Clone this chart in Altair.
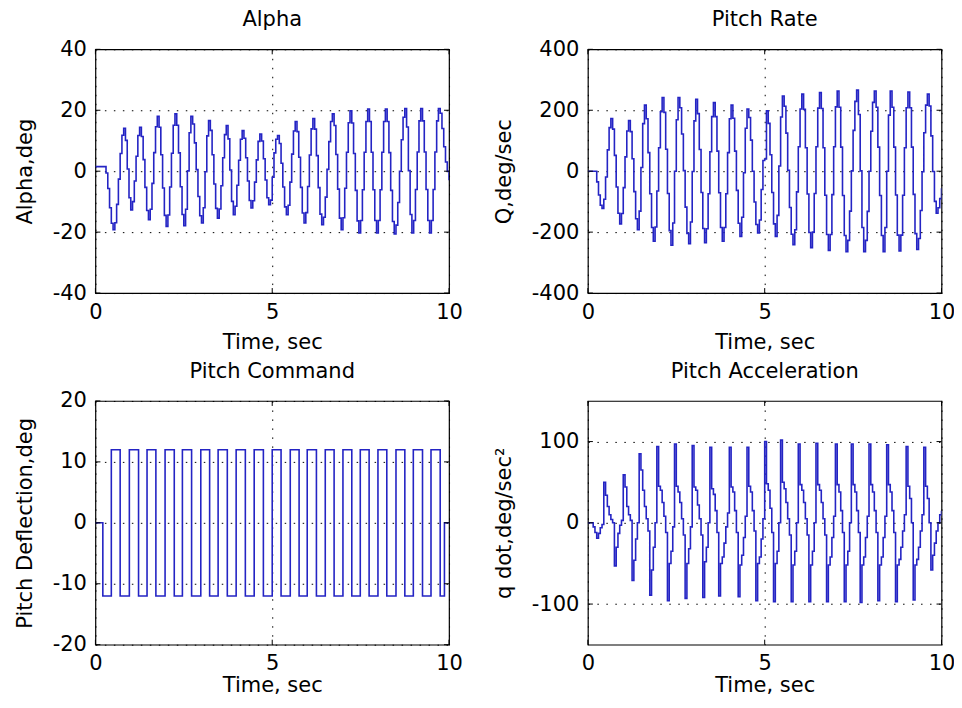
import altair as alt
import pandas as pd

TIME_STEP = 0.05

ALPHA = [
    1.5, 1.5, 1.5, 1.5, 1.5, 1.5, -0.6, -5.7, -12.0, -17.1,
    -19.2, -16.9, -10.9, -2.6, 5.8, 11.8, 14.1, 10.1, 0.7, -8.7,
    -12.7, -10.0, -3.2, 4.9, 11.7, 14.4, 11.4, 3.8, -5.3, -12.9,
    -15.9, -12.5, -4.0, 6.1, 14.6, 18.0, 14.4, 5.4, -5.5, -14.5,
    -18.1, -14.4, -5.2, 5.9, 15.1, 18.8, 15.1, 6.0, -5.1, -14.2,
    -17.9, -12.5, 0.1, 12.6, 18.0, 15.5, 9.3, 0.5, -8.3, -14.6,
    -17.0, -12.0, -0.2, 11.6, 16.6, 13.4, 5.4, -4.2, -12.2, -15.4,
    -12.4, -4.8, 4.4, 12.0, 15.0, 10.6, 0.4, -9.9, -14.3, -11.5,
    -4.6, 3.6, 10.5, 13.3, 10.8, 4.4, -3.2, -9.6, -12.1, -9.7,
    -3.6, 3.7, 9.8, 12.2, 9.9, 4.1, -2.9, -8.7, -11.0, -9.5,
    -2.0, 6.0, 10.5, 11.7, 9.1, 2.6, -5.2, -11.7, -14.3, -11.2,
    -3.6, 5.6, 13.2, 16.3, 13.0, 4.6, -5.3, -13.7, -17.0, -13.6,
    -5.0, 5.3, 13.9, 17.3, 13.8, 5.1, -5.4, -14.1, -17.6, -15.1,
    -8.5, 0.6, 9.7, 16.3, 18.8, 15.0, 5.5, -5.9, -15.4, -19.2,
    -15.3, -5.6, 6.2, 15.9, 19.8, 15.8, 5.8, -6.3, -16.3, -20.3,
    -16.2, -6.1, 6.2, 16.3, 20.4, 16.3, 6.2, -6.1, -16.2, -20.3,
    -16.2, -6.1, 6.2, 16.3, 20.4, 16.3, 6.1, -6.3, -16.5, -20.6,
    -17.7, -10.3, 0.0, 10.3, 17.7, 20.6, 14.5, 0.2, -14.2, -20.3,
    -16.2, -6.0, 6.3, 16.5, 20.6, 16.5, 6.3, -6.0, -16.2, -20.3,
    -16.2, -6.0, 6.3, 16.5, 20.6, 19.0, 14.0, 8.0, 3.0, 0.0,
    -3.0,
]

PITCH_RATE = [
    0, 0, 0, 0, 0, -35, -78, -112, -122, -92,
    -19, 70, 143, 173, 138, 52, -52, -138, -173, -139,
    -54, 47, 132, 166, 130, 41, -67, -156, -192, -131,
    12, 156, 217, 172, 61, -74, -185, -230, -183, -65,
    77, 195, 242, 193, 72, -73, -195, -243, -170, 0,
    169, 242, 208, 122, 2, -118, -204, -238, -167, -1,
    165, 236, 189, 71, -70, -188, -235, -189, -74, 64,
    179, 225, 179, 66, -71, -185, -230, -185, -74, 61,
    172, 217, 174, 66, -63, -171, -214, -151, -5, 141,
    204, 176, 102, 0, -101, -175, -203, -160, -60, 35,
    40, 198, 157, 54, -70, -173, -214, -145, 17, 178,
    247, 213, 125, 3, -119, -207, -241, -192, -68, 80,
    204, 253, 203, 77, -75, -201, -251, -200, -73, 80,
    207, 258, 206, 77, -79, -208, -260, -208, -77, 80,
    211, 263, 210, 79, -80, -211, -264, -227, -131, 1,
    134, 229, 266, 186, 1, -185, -264, -227, -132, 0,
    131, 226, 263, 210, 79, -80, -211, -264, -185, 0,
    184, 263, 210, 79, -78, -210, -262, -210, -79, 77,
    208, 260, 208, 79, -76, -205, -257, -221, -129, -2,
    126, 217, 253, 214, 116, -1, -99, -138, -120, -90,
    -56,
]

PITCH_ACCEL = [
    0, 0, 0, -5, -12, -19, -13, -6, -2, 50,
    34, 20, 10, 4, 0, -53, -30, -13, -3, 3,
    59, 44, 20, 10, 3, -71, -46, -20, 0, 85,
    65, 40, 20, 5, -10, -89, -58, -30, 0, 94,
    45, 40, 25, 8, -12, -96, -50, -35, -5, 97,
    45, 38, 25, 5, -15, -93, -50, -32, -5, 95,
    44, 40, 22, 5, -15, -92, -48, -30, 0, 93,
    42, 35, 15, -12, -90, -50, -42, -25, -5, 12,
    93, 44, 38, 15, -12, -91, -52, -40, -18, 8,
    93, 45, 38, 15, -10, -96, -50, -42, -20, 5,
    100, 48, 40, 18, -12, -97, -50, -35, 0, 102,
    50, 42, 25, 5, -15, -97, -52, -35, 0, 97,
    47, 40, 25, 5, -15, -97, -52, -35, 0, 98,
    47, 40, 25, 5, -15, -97, -52, -42, -18, 8,
    97, 47, 38, 15, -12, -97, -52, -35, 0, 97,
    47, 38, 15, -12, -98, -52, -42, -18, 8, 97,
    47, 38, 15, -12, -96, -52, -42, -18, 8, 96,
    47, 38, 15, -12, -97, -52, -45, -30, -10, 10,
    94, 45, 30, 0, -95, -52, -45, -30, -10, 10,
    93, 45, 30, 0, -58, -40, -25, -10, 0, 10,
    15,
]

# pitch command: switching instants (s) and the level held from each instant (deg)
CMD_TIME = [
    0.00, 0.21, 0.45, 0.70, 0.96, 1.22, 1.46, 1.71, 1.97, 2.23,
    2.46, 2.72, 2.98, 3.23, 3.47, 3.73, 3.98, 4.24, 4.49, 4.75,
    5.00, 5.25, 5.51, 5.76, 5.99, 6.25, 6.50, 6.75, 7.00, 7.25,
    7.49, 7.74, 7.99, 8.24, 8.50, 8.75, 8.99, 9.25, 9.49, 9.75,
    9.87, 10.00,
]
CMD_LEVEL = [
    0, -12, 12, -12, 12, -12, 12, -12, 12, -12,
    12, -12, 12, -12, 12, -12, 12, -12, 12, -12,
    12, -12, 12, -12, 12, -12, 12, -12, 12, -12,
    12, -12, 12, -12, 12, -12, 12, -12, 12, -12,
    0, 0,
]

X_TICKS = [0, 5, 10]
ALPHA_TICKS = [-40, -20, 0, 20, 40]
Q_TICKS = [-400, -200, 0, 200, 400]
CMD_TICKS = [-20, -10, 0, 10, 20]
QDOT_TICKS = [-100, 0, 100]

TITLES = ["Alpha", "Pitch Rate", "Pitch Command", "Pitch Acceleration"]
Y_TITLES = ["Alpha,deg", "Q,deg/sec", "Pitch Deflection,deg", "q dot,deg/sec\u00b2"]
X_TITLE = "Time, sec"

# ---------------- tables ----------------
times = [round(i * TIME_STEP, 2) for i in range(len(ALPHA))]
sim = pd.DataFrame({"t": times, "alpha": ALPHA, "q": PITCH_RATE, "qdot": PITCH_ACCEL})
cmd = pd.DataFrame({"t": CMD_TIME, "delta": CMD_LEVEL})

# ---------------- styling ----------------
FONT = "DejaVu Sans"
FS = 21
W, H = 354, 244
TICK_LEN = 5
LINE_COLOR = "#2424c4"


def panel(df, field, title, ytitle, ydomain, yticks, xtitle_y):
    x = alt.X(
        "t:Q",
        scale=alt.Scale(domain=[0, 10], nice=False, zero=False),
        axis=alt.Axis(values=X_TICKS, title=X_TITLE, labelFlush=False, labelPadding=8,
                      labelExpr="'' + datum.value",
                      titleY=xtitle_y, titleBaseline="alphabetic"),
    )
    y = alt.Y(
        f"{field}:Q",
        scale=alt.Scale(domain=ydomain, nice=False, zero=False),
        axis=alt.Axis(values=yticks, title=ytitle, labelPadding=9, titlePadding=17,
                      labelExpr="'' + datum.value"),
    )
    line = alt.Chart(df).mark_line(
        interpolate="step-after", color=LINE_COLOR, strokeWidth=1.6, clip=True
    ).encode(x=x, y=y)

    xt = pd.DataFrame({"t": X_TICKS})
    yt = pd.DataFrame({field: yticks})
    rule = dict(color="black", strokeWidth=1)
    tick_b = alt.Chart(xt).mark_rule(**rule).encode(x=x, y=alt.value(H - TICK_LEN), y2=alt.value(H))
    tick_t = alt.Chart(xt).mark_rule(**rule).encode(x=x, y=alt.value(0), y2=alt.value(TICK_LEN))
    tick_l = alt.Chart(yt).mark_rule(**rule).encode(y=y, x=alt.value(0), x2=alt.value(TICK_LEN))
    tick_r = alt.Chart(yt).mark_rule(**rule).encode(y=y, x=alt.value(W - TICK_LEN), x2=alt.value(W))

    head = alt.Chart(pd.DataFrame({"label": [title]})).mark_text(
        font=FONT, fontSize=FS, color="black", align="center", baseline="alphabetic"
    ).encode(text="label:N", x=alt.value(W / 2), y=alt.value(-23))
    return alt.layer(line, tick_b, tick_t, tick_l, tick_r, head).properties(width=W, height=H)


p1 = panel(sim, "alpha", TITLES[0], Y_TITLES[0], [-40, 40], ALPHA_TICKS, 55)
p2 = panel(sim, "q", TITLES[1], Y_TITLES[1], [-400, 400], Q_TICKS, 55)
p3 = panel(cmd, "delta", TITLES[2], Y_TITLES[2], [-20, 20], CMD_TICKS, 47)
p4 = panel(sim, "qdot", TITLES[3], Y_TITLES[3], [-150, 150], QDOT_TICKS, 47)

chart = (
    alt.concat(p1, p2, p3, p4, columns=2, spacing={"row": 108, "column": 139}, bounds="flush")
    .properties(padding={"left": 5.5, "top": 0, "right": -1.5, "bottom": 0}, background="white")
    .configure_view(stroke="black", strokeWidth=1.2)
    .configure_axis(
        labelFont=FONT, titleFont=FONT, labelFontSize=FS, titleFontSize=FS,
        labelColor="black", titleColor="black", titleFontWeight="normal",
        domain=False, ticks=False,
        grid=True, gridColor="black", gridDash=[1.5, 7.5], gridWidth=1, gridOpacity=1,
        labelOverlap=False,
    )
)

chart.save("out.html", embed_options={"renderer": "svg", "actions": False})
